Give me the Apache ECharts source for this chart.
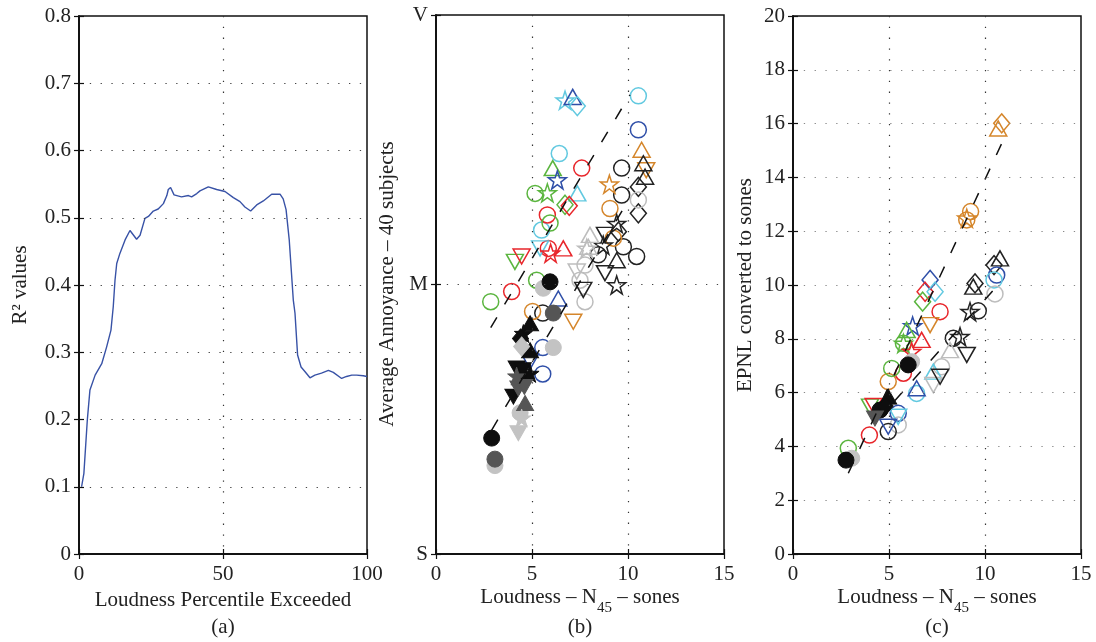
<!DOCTYPE html>
<html>
<head>
<meta charset="utf-8">
<script src="https://cdn.jsdelivr.net/npm/echarts@6/dist/echarts.min.js"></script>
<style>
html,body{margin:0;padding:0;background:#fff}
#chart{width:1096px;height:642px}
</style>
</head>
<body>
<div id="chart"></div>
<script>
// (a) R^2 of annoyance vs. loudness percentile
const percentile = [0.9,1.7,2.9,3.8,5.6,7.9,9.6,11.1,11.9,12.5,13.1,14.2,16.0,17.7,20.0,21.2,22.9,24.1,25.8,27.5,29.3,30.5,31.0,31.8,33.0,35.6,38.0,39.1,40.9,42.0,44.9,47.8,50.7,53.6,55.9,57.6,59.6,61.7,64.0,66.9,69.8,70.9,71.9,73.0,74.4,75.0,75.9,77.1,78.5,80.2,81.9,84.2,86.6,88.3,91.2,92.9,94.7,96.4,98.7,100];
const rSquared = [0.100,0.120,0.200,0.244,0.266,0.283,0.308,0.333,0.368,0.407,0.432,0.447,0.467,0.481,0.468,0.474,0.499,0.502,0.510,0.513,0.521,0.533,0.542,0.545,0.534,0.531,0.533,0.531,0.536,0.540,0.546,0.542,0.539,0.530,0.524,0.516,0.510,0.519,0.525,0.535,0.535,0.528,0.512,0.467,0.378,0.358,0.296,0.278,0.271,0.262,0.266,0.269,0.273,0.270,0.261,0.264,0.266,0.266,0.265,0.264];

// Tick labels of the annoyance scale (Slightly / Moderately / Very)
const annoyanceTicks = {0: 'S', 5: 'M', 10: 'V'};

// Keys: first letter = colour family (lower case hollow, upper case filled),
// second letter = marker (O circle, T up-triangle, V down-triangle, D diamond, S star)
// (b) Average annoyance vs. N45 loudness
const annoyanceOpen = [
  ['cS',6.72,8.42],['bT',7.12,8.48],['cD',7.36,8.31],['cO',10.54,8.50],['bO',10.54,7.87],
  ['oT',10.71,7.50],['cO',6.42,7.43],['gT',6.08,7.16],['rO',7.59,7.16],['kO',9.67,7.16],
  ['oV',10.95,7.12],['kT',10.80,7.25],['bS',6.32,6.94],['oS',9.03,6.86],['kT',10.89,7.00],
  ['kD',10.54,6.81],['gO',5.16,6.69],['gS',5.80,6.70],['cT',7.36,6.69],['kO',9.67,6.66],
  ['lO',10.54,6.57],['gD',6.72,6.48],['rD',6.94,6.46],['oO',9.06,6.41],['kD',10.54,6.32],
  ['gO',5.94,6.14],['rO',5.80,6.29],['cO',5.50,6.01],['kS',9.41,6.13],['kD',9.50,5.98],
  ['kV',8.80,5.92],['oO',9.24,5.86],['cV',5.42,5.67],['rO',5.85,5.67],['rS',5.97,5.58],
  ['rT',6.63,5.67],['gV',4.11,5.42],['rV',4.46,5.52],['lT',8.02,5.92],['lT',7.93,5.70],
  ['lS',7.85,5.67],['lO',7.76,5.36],['lO',7.50,5.08],['lV',7.33,5.24],['kO',8.45,5.55],
  ['kO',9.76,5.70],['kO',10.45,5.52],['kS',8.71,5.73],['kT',9.41,5.45],['kV',8.80,5.21],
  ['kS',9.41,4.99],['kV',7.67,4.90],['lO',7.76,4.68],['gO',5.24,5.08],['rO',3.94,4.87],
  ['gO',2.85,4.68],['bT',6.37,4.74],['oO',5.03,4.50],['kO',5.56,4.47],['oV',7.15,4.31],
  ['bO',5.56,3.83],['bV',4.90,3.57],['bO',5.56,3.34]
];
const annoyanceFilled = [
  ['LO',5.59,4.93],['KO',5.94,5.05],['DO',6.11,4.47],['KT',4.90,4.28],['KS',4.55,4.09],
  ['KD',4.40,4.00],['LD',4.46,3.85],['LO',6.11,3.83],['KT',4.90,3.78],['KV',4.20,3.44],
  ['KV',4.52,3.41],['DS',4.20,3.30],['KS',4.90,3.35],['KO',4.52,3.23],['DV',4.29,3.07],
  ['DV',4.60,3.10],['KV',4.03,2.92],['DT',4.64,2.80],['LO',4.38,2.62],['LS',4.46,2.52],
  ['LV',4.29,2.24],['KO',2.90,2.15],['DO',3.07,1.76],['LO',3.07,1.64]
];
const annoyanceFitColour = [[2.85,4.20],[10.10,8.52]];
const annoyanceFitGrey = [[2.90,2.30],[10.00,6.55]];

// (c) EPNL (in sones) vs. N45 loudness
const epnlOpen = [
  ['oT',10.69,15.82],['oD',10.87,16.01],['oO',9.25,12.73],['oS',9.05,12.48],['oO',9.05,12.42],
  ['kT',10.78,10.99],['kD',10.47,10.74],['bO',10.61,10.37],['cO',10.47,10.19],['lO',10.52,9.67],
  ['kT',9.39,9.94],['kD',9.48,10.06],['kO',9.65,9.04],['kS',9.22,9.01],['bD',7.14,10.19],
  ['rD',6.88,9.75],['cD',7.40,9.75],['gD',6.75,9.38],['rO',7.66,9.01],['bS',6.23,8.48],
  ['gT',5.92,8.33],['oV',7.14,8.51],['rT',6.70,7.96],['gO',5.75,7.83],['gS',5.75,7.83],
  ['rS',6.18,7.52],['gO',5.14,6.90],['rO',5.75,6.72],['oO',4.96,6.41],['bT',6.44,6.16],
  ['cO',6.44,5.97],['gV',4.01,5.48],['rV',4.20,5.50],['bO',5.48,5.23],['cV',5.48,5.10],
  ['lO',5.48,4.80],['kO',4.96,4.55],['bV',4.96,4.73],['rO',3.98,4.42],['gO',2.88,3.93],
  ['cT',7.31,6.78],['lV',7.31,6.28],['lO',7.74,6.96],['kV',7.66,6.59],['lT',8.18,7.58],
  ['kO',8.35,8.02],['kS',8.70,8.08],['kV',9.05,7.40]
];
const epnlFilled = [
  ['LO',6.18,7.15],['KO',6.00,7.03],['KT',4.96,5.85],['KO',4.53,5.35],['KD',4.80,5.50],
  ['DV',4.27,5.04],['LO',3.06,3.56],['KO',2.76,3.49]
];
const epnlFitColour = [[2.88,3.00],[10.87,15.26]];
const epnlFitGrey = [[5.30,5.70],[10.80,10.10]];

const FONT = 'Liberation Serif';
const TXT = '#222';
const palette = {g:'#5bb53f', r:'#e8262b', c:'#62c9e0', b:'#2f4fa8', o:'#d5862b', k:'#222222', l:'#bdbdbd',
                 K:'#0e0e0e', D:'#555555', L:'#c3c3c3'};
const STAR = 'path://M50,0 L61.8,35.1 L98.9,35.1 L69,57.3 L80.4,92.7 L50,70.8 L19.6,92.7 L31,57.3 L1.1,35.1 L38.2,35.1 Z';

function markerStyle(key) {
  const col = palette[key[0]];
  const filled = key[0] === key[0].toUpperCase();
  const shape = key[1];
  let symbol = 'circle', size = 16, rot = 0;
  if (shape === 'T') { symbol = 'triangle'; size = [17, 15]; }
  if (shape === 'V') { symbol = 'triangle'; size = [17, 15]; rot = 180; }
  if (shape === 'D') { symbol = 'diamond'; size = [16, 19]; }
  if (shape === 'S') { symbol = STAR; size = 18; }
  return {
    symbol, symbolSize: size, symbolRotate: rot,
    itemStyle: filled
      ? {color: col, borderColor: col, borderWidth: 1, opacity: 1}
      : {color: 'rgba(255,255,255,0)', borderColor: col, borderWidth: 1.5, opacity: 1}
  };
}

function scatterSeries(rows, axisIdx, z) {
  const groups = [];
  const byKey = {};
  rows.forEach(([k, x, y]) => {
    if (!byKey[k]) { byKey[k] = []; groups.push(k); }
    byKey[k].push([x, y]);
  });
  return groups.map(k => Object.assign({
    type: 'scatter', xAxisIndex: axisIdx, yAxisIndex: axisIdx, z,
    data: byKey[k], silent: true, animation: false
  }, markerStyle(k)));
}

function fitLine(pts, axisIdx) {
  return {
    type: 'line', xAxisIndex: axisIdx, yAxisIndex: axisIdx, z: 5,
    data: pts, symbol: 'none', silent: true, animation: false,
    lineStyle: {color: '#111', width: 1.5, type: [12, 15]}
  };
}

const dotted = (c) => ({show: true, showMinLine: false, showMaxLine: false,
  lineStyle: {color: c, width: 1.2, type: [1.3, 9.5]}});
const labelStyle = {fontFamily: FONT, fontSize: 21, color: TXT};

const grids = [
  {left: 79, top: 16, width: 288, height: 538},
  {left: 436, top: 15, width: 288, height: 539},
  {left: 793, top: 16, width: 288, height: 538}
].map(g => Object.assign(g, {show: true, borderColor: '#111', borderWidth: 1.5, containLabel: false, outerBoundsMode: 'none'}));

const xRanges = [{min: 0, max: 100, interval: 50}, {min: 0, max: 15, interval: 5}, {min: 0, max: 15, interval: 5}];
const yRanges = [{min: 0, max: 0.8, interval: 0.1}, {min: 0, max: 10, interval: 5}, {min: 0, max: 20, interval: 2}];
const hGridColour = ['#444', '#444', '#888'];

const frameLine = {show: true, lineStyle: {color: '#111', width: 1.5}};
const innerTick = {show: true, inside: true, length: 5, lineStyle: {color: '#111', width: 1.2}};

const xAxes = [], yAxes = [];
[0, 1, 2].forEach(i => {
  xAxes.push(Object.assign({
    type: 'value', gridIndex: i, position: 'bottom', z: 8,
    axisLine: frameLine, axisTick: innerTick,
    axisLabel: Object.assign({margin: 10, showMinLabel: true, showMaxLabel: true, hideOverlap: false}, labelStyle),
    splitLine: dotted('#333')
  }, xRanges[i]));
  yAxes.push(Object.assign({
    type: 'value', gridIndex: i, position: 'left', z: 8,
    axisLine: frameLine, axisTick: innerTick,
    axisLabel: Object.assign({margin: 8, showMinLabel: true, showMaxLabel: true, hideOverlap: false,
      formatter: i === 1 ? (v => annoyanceTicks[v] || '') : (i === 0 ? (v => v === 0 ? '0' : v.toFixed(1)) : null)}, labelStyle),
    splitLine: dotted(hGridColour[i])
  }, yRanges[i]));
});
// mirrored frame axes carrying the inward ticks on top and right
[0, 1, 2].forEach(i => {
  xAxes.push(Object.assign({
    type: 'value', gridIndex: i, position: 'top', z: 8,
    axisLine: frameLine, axisTick: innerTick,
    axisLabel: {show: false}, splitLine: {show: false}
  }, xRanges[i]));
  yAxes.push(Object.assign({
    type: 'value', gridIndex: i, position: 'right', z: 8,
    axisLine: frameLine, axisTick: innerTick,
    axisLabel: {show: false}, splitLine: {show: false}
  }, yRanges[i]));
});

const series = [
  {
    type: 'line', xAxisIndex: 0, yAxisIndex: 0, symbol: 'none', silent: true, animation: false,
    data: percentile.map((p, i) => [p, rSquared[i]]),
    lineStyle: {color: '#3852a6', width: 1.4}
  },
  ...scatterSeries(annoyanceOpen, 1, 2),
  ...scatterSeries(annoyanceFilled, 1, 3),
  fitLine(annoyanceFitColour, 1),
  fitLine(annoyanceFitGrey, 1),
  ...scatterSeries(epnlOpen, 2, 2),
  ...scatterSeries(epnlFilled, 2, 3),
  fitLine(epnlFitColour, 2),
  fitLine(epnlFitGrey, 2)
];

const textFont = '21px "' + FONT + '"';
const txt = (x, y, text, rot) => ({
  type: 'text', x, y, rotation: rot || 0, silent: true,
  style: {text, font: textFont, fill: TXT, align: 'center', verticalAlign: 'middle'}
});
const loudnessName = (x, y) => ({
  type: 'text', x, y, silent: true,
  style: {
    text: '{n|Loudness – N}{s|45}{n| – sones}', align: 'center', verticalAlign: 'middle',
    rich: {
      n: {font: textFont, fill: TXT},
      s: {font: '15px "' + FONT + '"', fill: TXT, padding: [23, 0, 0, 0]}
    }
  }
});

const chart = echarts.init(document.getElementById('chart'), null, {renderer: 'canvas'});
chart.setOption({
  backgroundColor: '#fff',
  animation: false,
  grid: grids,
  xAxis: xAxes,
  yAxis: yAxes,
  series,
  graphic: [
    txt(20, 285, 'R² values', Math.PI / 2),
    txt(223, 600, 'Loudness Percentile Exceeded'),
    txt(223, 627, '(a)'),
    txt(387, 284, 'Average Annoyance – 40 subjects', Math.PI / 2),
    loudnessName(580, 597),
    txt(580, 627, '(b)'),
    txt(745, 285, 'EPNL converted to sones', Math.PI / 2),
    loudnessName(937, 597),
    txt(937, 627, '(c)')
  ]
});
</script>
</body>
</html>
